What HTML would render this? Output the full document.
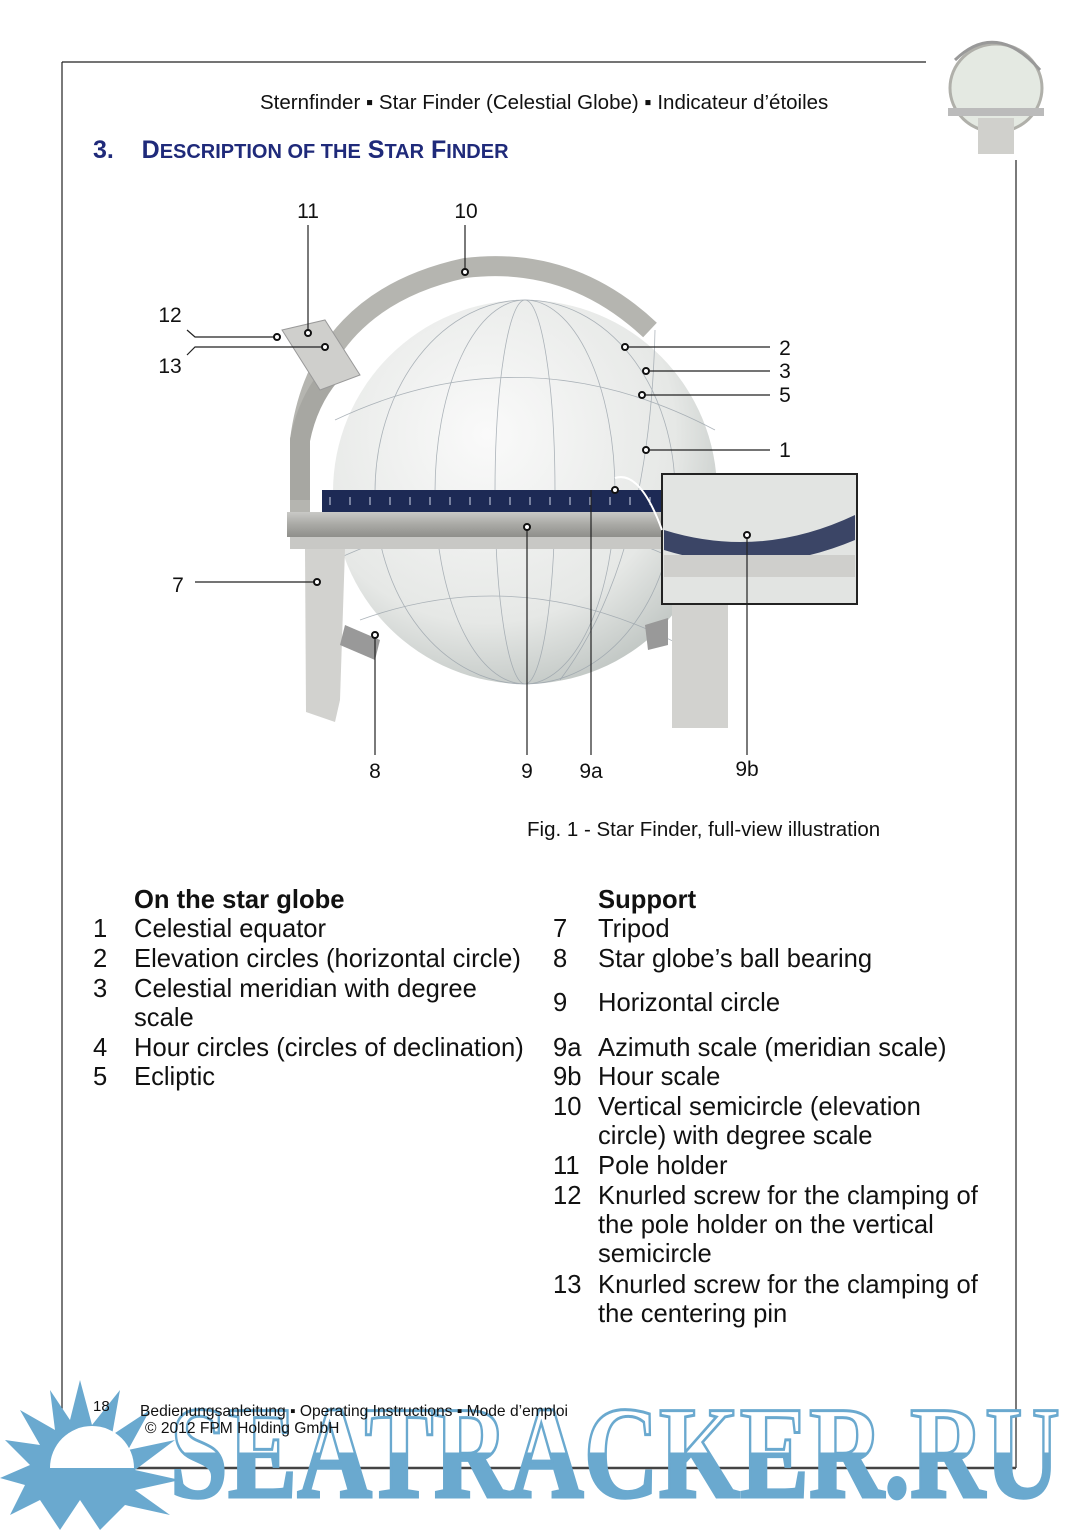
<!DOCTYPE html>
<html><head><meta charset="utf-8"><style>
body{margin:0;background:#fff;}
.p{position:relative;width:1080px;height:1530px;overflow:hidden;font-family:"Liberation Sans",sans-serif;color:#111;}
.t{position:absolute;white-space:nowrap;}
.l{font-size:25.6px;line-height:29px;}
</style></head><body><div class="p">
<svg width="1080" height="1530" style="position:absolute;left:0;top:0">
<defs>
<radialGradient id="gl" cx="0.4" cy="0.35" r="0.7"><stop offset="0" stop-color="#fafafa"/><stop offset="0.7" stop-color="#e6e8e6"/><stop offset="1" stop-color="#bfc5c2"/></radialGradient>
<linearGradient id="ring" x1="0" y1="0" x2="0" y2="1"><stop offset="0" stop-color="#c9c9c6"/><stop offset="0.5" stop-color="#a9a9a5"/><stop offset="1" stop-color="#8f8f8b"/></linearGradient>
<linearGradient id="wm" x1="0" y1="0" x2="0" y2="1"><stop offset="0.5" stop-color="#fff"/><stop offset="0.5" stop-color="#6aa9cf"/></linearGradient>
</defs>
<line x1="62" y1="62" x2="926" y2="62" stroke="#222" stroke-width="1.2"/>
<line x1="62" y1="62" x2="62" y2="1468" stroke="#222" stroke-width="1.2"/>
<line x1="1016" y1="160" x2="1016" y2="1468" stroke="#222" stroke-width="1.2"/>
<line x1="62" y1="1468" x2="1016" y2="1468" stroke="#444" stroke-width="2.5"/>
<!-- thumbnail -->
<ellipse cx="996" cy="88" rx="46" ry="44" fill="#e4e9e2" stroke="#b0b0aa" stroke-width="3"/>
<path d="M955 60 Q996 20 1040 70" stroke="#999" stroke-width="3" fill="none"/>
<rect x="948" y="108" width="96" height="8" fill="#bbb"/>
<rect x="978" y="118" width="36" height="36" fill="#d0d0cc"/>
<!-- globe -->
<path d="M300 520 L300 440 Q318 300 465 268 Q570 255 650 330" fill="none" stroke="#b5b5b0" stroke-width="20"/>
<circle cx="525" cy="492" r="192" fill="url(#gl)"/>
<g stroke="#9aa3ab" stroke-width="0.8" fill="none" opacity="0.8">
<ellipse cx="525" cy="492" rx="150" ry="192"/><ellipse cx="525" cy="492" rx="90" ry="192"/><ellipse cx="525" cy="492" rx="30" ry="192"/>
<path d="M335 420 Q525 330 715 430"/><path d="M335 560 Q525 470 715 580"/><path d="M360 620 Q525 560 690 650"/><path d="M560 680 Q650 560 655 330"/>
</g>
<path d="M300 500 L300 440 Q310 390 345 360" fill="none" stroke="#a7a7a2" stroke-width="20"/>
<path d="M282 330 L325 320 L360 375 L320 390 Z" fill="#cfcfcc" stroke="#999"/>
<rect x="322" y="490" width="340" height="22" fill="#1d2a55"/>
<g stroke="#cfd6e8" stroke-width="1"><path d="M330 497v8M350 497v8M370 497v8M390 497v8M410 497v8M430 497v8M450 497v8M470 497v8M490 497v8M510 497v8M530 497v8M550 497v8M570 497v8M590 497v8M610 497v8M630 497v8M650 497v8"/></g>
<rect x="287" y="512" width="375" height="25" fill="url(#ring)"/>
<rect x="290" y="537" width="372" height="12" fill="#c8c8c5"/>
<path d="M305 549 L345 549 L340 700 L335 722 L306 712 Z" fill="#d2d2cf"/>
<path d="M672 600 L728 600 L728 728 L672 728 Z" fill="#d2d2cf"/>
<path d="M345 625 L380 640 L375 660 L340 645Z" fill="#999"/>
<path d="M645 625 L668 618 L668 645 L648 650Z" fill="#999"/>
<rect x="662" y="474" width="195" height="130" fill="#e2e4e2" stroke="#222" stroke-width="2"/>
<path d="M664 530 Q760 560 855 515 L855 540 Q760 580 664 550Z" fill="#3b4566"/>
<rect x="664" y="555" width="191" height="22" fill="#cfcfcc"/>
<path d="M615 478 Q640 470 662 530" stroke="#fff" stroke-width="2" fill="none"/>
<g stroke="#222" stroke-width="1.2" fill="none">
<line x1="308" y1="225" x2="308" y2="333"/><line x1="465" y1="225" x2="465" y2="272"/>
<path d="M187 330 L195 337 L277 337"/><path d="M187 355 L195 347 L325 347"/>
<line x1="625" y1="347" x2="770" y2="347"/><line x1="646" y1="371" x2="770" y2="371"/>
<line x1="642" y1="395" x2="770" y2="395"/><line x1="646" y1="450" x2="770" y2="450"/>
<line x1="195" y1="582" x2="317" y2="582"/>
<line x1="375" y1="635" x2="375" y2="755"/><line x1="527" y1="527" x2="527" y2="755"/>
<line x1="591" y1="490" x2="591" y2="755"/><line x1="747" y1="535" x2="747" y2="755"/>
</g>
<g fill="#fff" stroke="#111" stroke-width="2">
<circle cx="308" cy="333" r="3"/><circle cx="465" cy="272" r="3"/><circle cx="277" cy="337" r="3"/><circle cx="325" cy="347" r="3"/>
<circle cx="625" cy="347" r="3"/><circle cx="646" cy="371" r="3"/><circle cx="642" cy="395" r="3"/><circle cx="646" cy="450" r="3"/>
<circle cx="317" cy="582" r="3"/><circle cx="375" cy="635" r="3"/><circle cx="527" cy="527" r="3"/><circle cx="615" cy="490" r="3"/><circle cx="747" cy="535" r="3"/>
</g>
<g font-family="Liberation Sans,sans-serif" font-size="21" fill="#111" text-anchor="middle">
<text x="308" y="218">11</text><text x="466" y="218">10</text><text x="170" y="322">12</text><text x="170" y="373">13</text>
<text x="785" y="355">2</text><text x="785" y="378">3</text><text x="785" y="402">5</text><text x="785" y="457">1</text>
<text x="178" y="592">7</text><text x="375" y="778">8</text><text x="527" y="778">9</text><text x="591" y="778">9a</text><text x="747" y="776">9b</text>
</g>
<g fill="#6aa9cf">
<polygon points="80,1380 92,1425 120,1390 112,1435 150,1410 128,1450 175,1440 135,1470 180,1480 135,1490 170,1515 125,1505 100,1530 80,1500 60,1530 40,1500 10,1515 25,1485 0,1478 30,1465 5,1440 40,1445 20,1410 55,1430 50,1390 70,1420"/>
<path d="M50 1468 A42 42 0 0 1 134 1468 Z" fill="#fff"/>
</g>
<text x="170" y="1497" font-family="Liberation Serif,serif" font-weight="bold" font-size="132" textLength="890" lengthAdjust="spacingAndGlyphs" fill="url(#wm)" stroke="#6aa9cf" stroke-width="3">SEATRACKER.RU</text>
</svg>
<div class="t" style="left:260px;top:91px;font-size:20.5px;">Sternfinder ▪ Star Finder (Celestial Globe) ▪ Indicateur d’étoiles</div>
<div class="t" style="left:93px;top:136px;font-size:25px;font-weight:bold;color:#1f2a7a;">3.&nbsp;&nbsp;&nbsp;&nbsp;D<span style="font-size:20px">ESCRIPTION OF THE</span> S<span style="font-size:20px">TAR</span> F<span style="font-size:20px">INDER</span></div>
<div class="t" style="left:527px;top:818px;font-size:20.5px;">Fig. 1 - Star Finder, full-view illustration</div>
<div class="t l" style="left:134px;top:886px;font-weight:bold;">On the star globe</div>
<div class="t l" style="left:93px;top:915px;">1</div><div class="t l" style="left:134px;top:915px;">Celestial equator</div>
<div class="t l" style="left:93px;top:945px;">2</div><div class="t l" style="left:134px;top:945px;">Elevation circles (horizontal circle)</div>
<div class="t l" style="left:93px;top:975px;">3</div><div class="t l" style="left:134px;top:975px;">Celestial meridian with degree<br>scale</div>
<div class="t l" style="left:93px;top:1034px;">4</div><div class="t l" style="left:134px;top:1034px;">Hour circles (circles of declination)</div>
<div class="t l" style="left:93px;top:1063px;">5</div><div class="t l" style="left:134px;top:1063px;">Ecliptic</div>
<div class="t l" style="left:598px;top:886px;font-weight:bold;">Support</div>
<div class="t l" style="left:553px;top:915px;">7</div><div class="t l" style="left:598px;top:915px;">Tripod</div>
<div class="t l" style="left:553px;top:945px;">8</div><div class="t l" style="left:598px;top:945px;">Star globe’s ball bearing</div>
<div class="t l" style="left:553px;top:989px;">9</div><div class="t l" style="left:598px;top:989px;">Horizontal circle</div>
<div class="t l" style="left:553px;top:1034px;">9a</div><div class="t l" style="left:598px;top:1034px;">Azimuth scale (meridian scale)</div>
<div class="t l" style="left:553px;top:1063px;">9b</div><div class="t l" style="left:598px;top:1063px;">Hour scale</div>
<div class="t l" style="left:553px;top:1093px;">10</div><div class="t l" style="left:598px;top:1093px;">Vertical semicircle (elevation<br>circle) with degree scale</div>
<div class="t l" style="left:553px;top:1152px;">11</div><div class="t l" style="left:598px;top:1152px;">Pole holder</div>
<div class="t l" style="left:553px;top:1182px;">12</div><div class="t l" style="left:598px;top:1182px;">Knurled screw for the clamping of<br>the pole holder on the vertical<br>semicircle</div>
<div class="t l" style="left:553px;top:1271px;">13</div><div class="t l" style="left:598px;top:1271px;">Knurled screw for the clamping of<br>the centering pin</div>
<div class="t" style="left:93px;top:1398px;font-size:15px;">18</div>
<div class="t" style="left:140px;top:1403px;font-size:15.6px;">Bedienungsanleitung ▪ Operating Instructions ▪ Mode d’emploi</div>
<div class="t" style="left:145px;top:1420px;font-size:15.6px;">© 2012 FPM Holding GmbH</div>
</div></body></html>
